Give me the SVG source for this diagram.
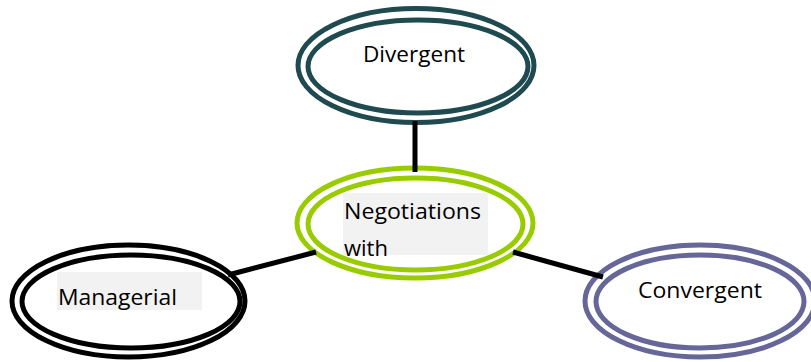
<svg xmlns="http://www.w3.org/2000/svg" width="811" height="362" viewBox="0 0 811 362">
<style>
.ring{fill:none;stroke-width:5}
.lbl{font-family:"Open Sans","Noto Sans",sans-serif;font-size:22px;fill:#000}
.box{fill:#f2f2f2}
.conn{stroke:#000;stroke-width:5;fill:none}
</style>
<rect width="811" height="362" fill="#fff"/>
<g id="divergent">
<ellipse class="ring" cx="416" cy="65.5" rx="118" ry="57" stroke="#1e4a50"/>
<ellipse class="ring" cx="418" cy="66.5" rx="110" ry="46.5" stroke="#1e4a50"/>
<text class="lbl" x="363" y="62" textLength="102" lengthAdjust="spacingAndGlyphs">Divergent</text>
</g>
<g id="negotiations">
<ellipse class="ring" cx="415" cy="223" rx="118" ry="55" stroke="#99cc00"/>
<ellipse class="ring" cx="415.5" cy="224" rx="107.5" ry="46" stroke="#99cc00"/>
<rect class="box" x="343" y="193" width="145" height="62"/>
<text class="lbl" x="344" y="219" textLength="137" lengthAdjust="spacingAndGlyphs">Negotiations</text>
<text class="lbl" x="344" y="256">with</text>
</g>
<g id="managerial">
<ellipse class="ring" cx="128.5" cy="301" rx="116.5" ry="56" stroke="#000"/>
<ellipse class="ring" cx="131" cy="301.5" rx="109" ry="46.5" stroke="#000"/>
<rect class="box" x="57" y="272" width="145" height="38"/>
<text class="lbl" x="58" y="305" textLength="119" lengthAdjust="spacingAndGlyphs">Managerial</text>
</g>
<g id="convergent">
<ellipse class="ring" cx="700" cy="301" rx="115" ry="56" stroke="#666699"/>
<ellipse class="ring" cx="700" cy="301.5" rx="104" ry="46.5" stroke="#666699"/>
<text class="lbl" x="638" y="298" textLength="124" lengthAdjust="spacingAndGlyphs">Convergent</text>
</g>
<g id="connectors">
<line class="conn" x1="415" y1="121" x2="415" y2="172"/>
<line class="conn" x1="228" y1="275" x2="316" y2="252"/>
<line class="conn" x1="513" y1="252" x2="603" y2="277"/>
</g>
</svg>
